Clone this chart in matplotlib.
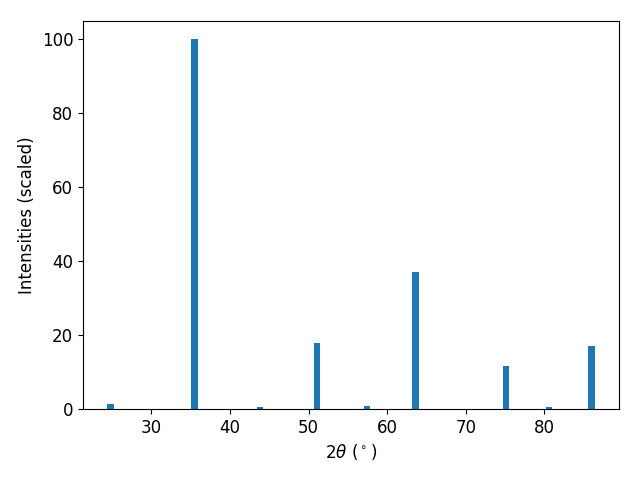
import matplotlib
matplotlib.use("Agg")
import matplotlib.pyplot as plt

# peak positions (2theta, degrees) and scaled intensities
two_theta = [24.8, 35.5, 43.8, 51.05, 57.4, 63.6, 75.1, 80.6, 86.0]
intensity = [1.3, 100.0, 0.5, 17.9, 0.8, 37.1, 11.6, 0.5, 17.1]

plt.rcParams["font.size"] = 12

fig, ax = plt.subplots(figsize=(6.4, 4.8), dpi=100)
ax.bar(two_theta, intensity, width=0.8, color="tab:blue")
ax.set_xlabel(r"2$\theta$ ($^\circ$)")
ax.set_ylabel("Intensities (scaled)")
fig.subplots_adjust(left=83/640, right=619/640, top=1-21/480, bottom=1-409/480)
fig.savefig("out.png")
